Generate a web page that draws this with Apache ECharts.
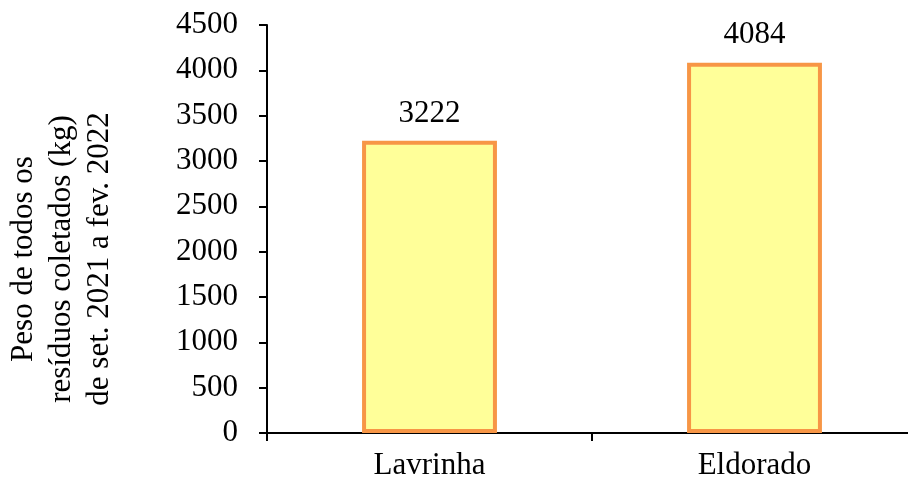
<!DOCTYPE html>
<html>
<head>
<meta charset="utf-8">
<script src="https://cdn.jsdelivr.net/npm/echarts@6/dist/echarts.min.js"></script>
<style>
  html, body { margin: 0; padding: 0; background: #fff; }
  #chart { width: 908px; height: 483px; }
</style>
</head>
<body>
<div id="chart"></div>
<script>
// Total waste collected per neighbourhood, Sep 2021 – Feb 2022
const categories = ['Lavrinha', 'Eldorado'];
const weights = [3222, 4084];
const yTicks = { min: 0, max: 4500, interval: 500 };
const yTitle = 'Peso de todos os\nresíduos coletados (kg)\nde set. 2021 a fev. 2022';

const font = "'Liberation Serif', 'Times New Roman', serif";
const chart = echarts.init(document.getElementById('chart'), null, { renderer: 'canvas' });

chart.setOption({
  animation: false,
  backgroundColor: '#ffffff',
  grid: { left: 267, top: 25, bottom: 50, right: -9, outerBoundsMode: 'none', containLabel: false },
  xAxis: {
    type: 'category',
    data: categories,
    axisLine: { show: true, lineStyle: { color: '#000', width: 2 } },
    axisTick: { show: true, length: 8, lineStyle: { color: '#000', width: 2 } },
    axisLabel: { color: '#000', fontFamily: font, fontSize: 31, margin: 17 }
  },
  yAxis: {
    type: 'value',
    min: yTicks.min,
    max: yTicks.max,
    interval: yTicks.interval,
    splitLine: { show: false },
    axisLine: { show: true, lineStyle: { color: '#000', width: 2 } },
    axisTick: { show: true, length: 8, lineStyle: { color: '#000', width: 2 } },
    axisLabel: {
      color: '#000', fontFamily: font, fontSize: 31, margin: 29,
      formatter: (v) => String(v)
    }
  },
  graphic: [{
    type: 'text',
    x: 62,
    y: 259,
    rotation: Math.PI / 2,
    style: {
      text: yTitle,
      fill: '#000',
      font: '31px ' + font,
      lineHeight: 38,
      align: 'center',
      verticalAlign: 'middle'
    }
  }],
  series: [{
    type: 'bar',
    data: weights,
    barWidth: '41.5%',
    itemStyle: { color: '#FFFF99', borderColor: '#F79646', borderWidth: 4 },
    label: {
      show: true,
      position: 'top',
      distance: 12,
      color: '#000',
      fontFamily: font,
      fontSize: 31
    }
  }]
});
</script>
</body>
</html>
